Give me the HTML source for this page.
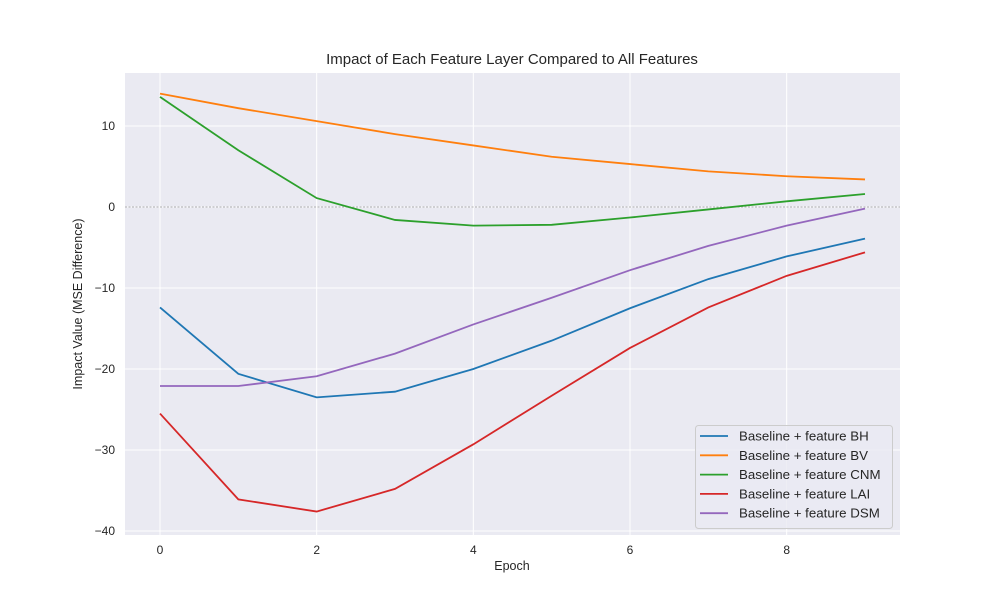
<!DOCTYPE html>
<html><head><meta charset="utf-8"><style>
body{margin:0;background:#fff;font-family:"Liberation Sans",sans-serif}
</style></head><body>
<svg id="c" width="1000" height="600" xmlns="http://www.w3.org/2000/svg" font-family="Liberation Sans, sans-serif"></svg>
<script>
const epochs=[0,1,2,3,4,5,6,7,8,9];
const xTicks=[0,2,4,6,8];
const yTicks=[10,0,-10,-20,-30,-40];
const seriesNames=["Baseline + feature BH","Baseline + feature BV","Baseline + feature CNM","Baseline + feature LAI","Baseline + feature DSM"];
const bh=[-12.4,-20.6,-23.5,-22.8,-20.0,-16.5,-12.5,-8.9,-6.1,-3.9];
const bv=[14.0,12.2,10.6,9.0,7.6,6.2,5.3,4.4,3.8,3.4];
const cnm=[13.6,7.0,1.1,-1.6,-2.3,-2.2,-1.3,-0.3,0.7,1.6];
const lai=[-25.5,-36.1,-37.6,-34.8,-29.3,-23.3,-17.4,-12.4,-8.5,-5.6];
const dsm=[-22.1,-22.1,-20.9,-18.1,-14.5,-11.2,-7.8,-4.8,-2.3,-0.2];
const colors=["#1f77b4","#ff7f0e","#2ca02c","#d62728","#9467bd"];
const all=[bh,bv,cnm,lai,dsm];
const L=125,R=900,T=73,B=535;
const x=v=>160+v*(865-160)/9;
const y=v=>207-v*8.1;
const svg=document.getElementById('c');
const NS="http://www.w3.org/2000/svg";
function mk(t,a,p){const e=document.createElementNS(NS,t);for(const k in a)e.setAttribute(k,a[k]);(p||svg).appendChild(e);return e;}
let bg=mk('rect',{x:L,y:T,width:R-L,height:B-T,fill:'#eaeaf2'});


xTicks.forEach(t=>{
 let g=mk('line',{x1:x(t),x2:x(t),y1:T,y2:B,stroke:'#fff','stroke-width':1});
 
 
 let tx=mk('text',{x:x(t),y:554,'text-anchor':'middle','font-size':12,fill:'#262626'});
 tx.textContent=t;
 
 
});
yTicks.forEach(t=>{
 let g=mk('line',{x1:L,x2:R,y1:y(t),y2:y(t),stroke:'#fff','stroke-width':1});
 
 
 let tx=mk('text',{x:115,y:y(t)+4,'text-anchor':'end','font-size':12,fill:'#262626'});
 tx.textContent=t<0?'\u2212'+(-t):t;
 
 
});
let z=mk('line',{x1:L,x2:R,y1:y(0),y2:y(0),stroke:'#666','stroke-width':0.6,'stroke-dasharray':'2,1.5'});


all.forEach((s,i)=>{
 let p=mk('polyline',{points:s.map((v,j)=>x(epochs[j])+','+y(v)).join(' '),fill:'none',stroke:colors[i],'stroke-width':1.8});
 
 
});
let lg=mk('rect',{x:695.5,y:425.5,width:197,height:103,rx:3,fill:'#eaeaf2','fill-opacity':0.8,stroke:'#ccc'});


seriesNames.forEach((n,i)=>{
 const yy=436+i*19.3;
 let l=mk('line',{x1:700,x2:728,y1:yy,y2:yy,stroke:colors[i],'stroke-width':1.8});
 
 
 let t=mk('text',{x:739,y:yy+4.5,'font-size':13.3,fill:'#262626'});
 t.textContent=n;
 
 
});
let ti=mk('text',{x:512,y:64,'text-anchor':'middle','font-size':15,fill:'#262626'});
ti.textContent='Impact of Each Feature Layer Compared to All Features';


let xl=mk('text',{x:512,y:570,'text-anchor':'middle','font-size':12.5,fill:'#262626'});
xl.textContent='Epoch';


let yl=mk('text',{x:0,y:0,'text-anchor':'middle','font-size':12.5,fill:'#262626',transform:'translate(82,304) rotate(-90)'});
yl.textContent='Impact Value (MSE Difference)';


</script>
</body></html>
